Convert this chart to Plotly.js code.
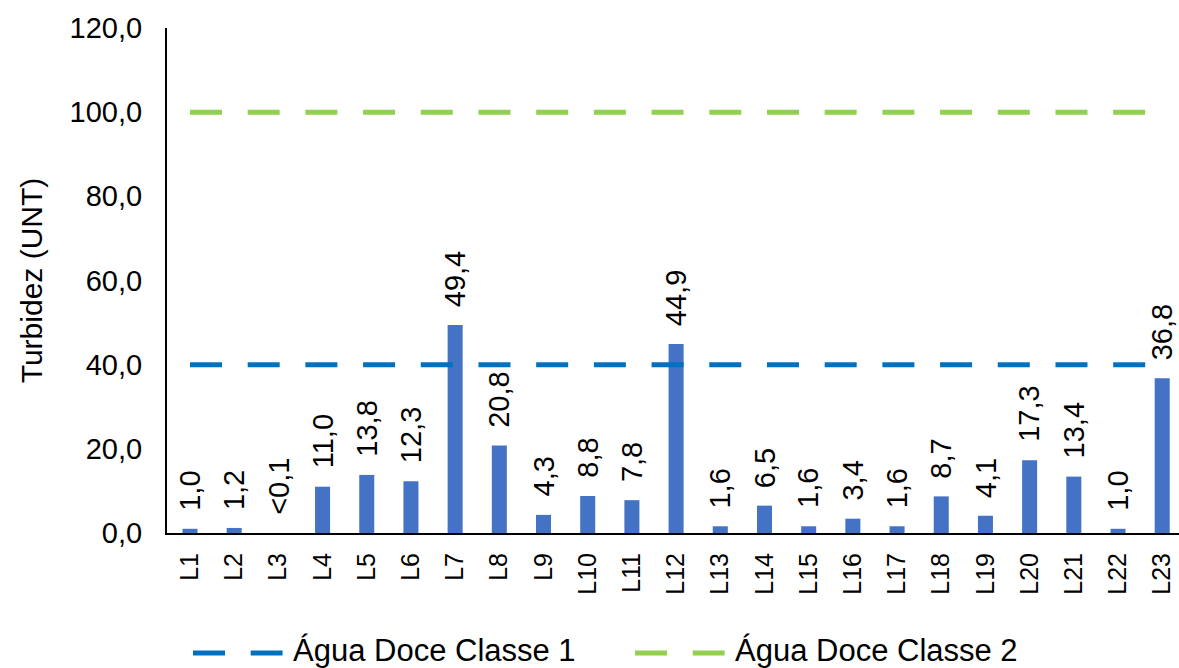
<!DOCTYPE html>
<html>
<head>
<meta charset="utf-8">
<script src="https://cdn.plot.ly/plotly-3.0.1.min.js"></script>
<style>html,body{margin:0;padding:0;background:#fff;}#chart{width:1179px;height:668px;}</style>
</head>
<body>
<div id="chart"></div>
<script>
const categories = ["L1","L2","L3","L4","L5","L6","L7","L8","L9","L10","L11","L12","L13","L14","L15","L16","L17","L18","L19","L20","L21","L22","L23"];
const turbidity = [1.0,1.2,0,11.0,13.8,12.3,49.4,20.8,4.3,8.8,7.8,44.9,1.6,6.5,1.6,3.4,1.6,8.7,4.1,17.3,13.4,1.0,36.8];
const barLabels = ["1,0","1,2","<0,1","11,0","13,8","12,3","49,4","20,8","4,3","8,8","7,8","44,9","1,6","6,5","1,6","3,4","1,6","8,7","4,1","17,3","13,4","1,0","36,8"];
const limitNames = ["Água Doce Classe 1","Água Doce Classe 2"];
const limitValues = [40, 100];
const limitColors = ["#0070C0","#92D050"];
const yTicks = [0,20,40,60,80,100,120];

const FONT = "Liberation Sans, Arial, sans-serif";
const DASH = "32px,25.7px";

const traces = [{
  type: "bar",
  x: categories,
  y: turbidity,
  marker: {color: "#4472C4"},
  width: 0.34,
  showlegend: false,
  hoverinfo: "x+y"
}];

limitValues.forEach((v, i) => {
  traces.push({
    type: "scatter",
    mode: "lines",
    x: categories,
    y: categories.map(() => v),
    name: limitNames[i],
    line: {color: limitColors[i], width: 5, dash: DASH},
    showlegend: false,
    hoverinfo: "name+y"
  });
});

const annotations = [];
// value labels above the bars (rotated)
categories.forEach((c, i) => {
  annotations.push({
    xref: "x", yref: "y", x: c, y: turbidity[i],
    text: barLabels[i], textangle: -90, showarrow: false,
    xanchor: "center", yanchor: "bottom", yshift: 16,
    font: {family: FONT, size: 29, color: "#000"}
  });
});

// custom legend (symbol + label) below the plot
const legendX = [0.0257, 0.4625];
const legendLineY = -0.2376;
const legendTextY = -0.2317;
const shapes = [];
limitNames.forEach((n, i) => {
  const x0 = legendX[i];
  shapes.push({type: "line", xref: "paper", yref: "paper", x0: x0, x1: x0 + 0.0885, y0: legendLineY, y1: legendLineY,
    line: {color: limitColors[i], width: 5, dash: DASH}});
  annotations.push({xref: "paper", yref: "paper", x: x0 + 0.097, y: legendTextY, xanchor: "left", yanchor: "middle",
    text: n, showarrow: false, font: {family: FONT, size: 31, color: "#000"}});
});

const layout = {
  width: 1179, height: 668,
  margin: {l: 167, r: 0, t: 28, b: 135},
  paper_bgcolor: "#fff", plot_bgcolor: "#fff",
  font: {family: FONT, color: "#000"},
  separators: ",.",
  xaxis: {
    type: "category",
    range: [-0.52, 22.38],
    showline: true, linecolor: "#000", linewidth: 2,
    showgrid: false, zeroline: false, ticks: "",
    tickangle: -90,
    tickfont: {family: FONT, size: 25, color: "#000"},
    ticklabelstandoff: 8
  },
  yaxis: {
    range: [0, 120],
    tickvals: yTicks,
    tickformat: ".1f",
    showline: true, linecolor: "#000", linewidth: 2,
    showgrid: false, zeroline: false, ticks: "",
    tickfont: {family: FONT, size: 29, color: "#000"},
    ticklabelstandoff: 17,
    title: {text: "Turbidez (UNT)", font: {family: FONT, size: 30, color: "#000"}, standoff: 18},
    automargin: false
  },
  shapes: shapes,
  annotations: annotations,
  showlegend: false
};

Plotly.newPlot("chart", traces, layout, {displayModeBar: false, staticPlot: true});
</script>
</body>
</html>
